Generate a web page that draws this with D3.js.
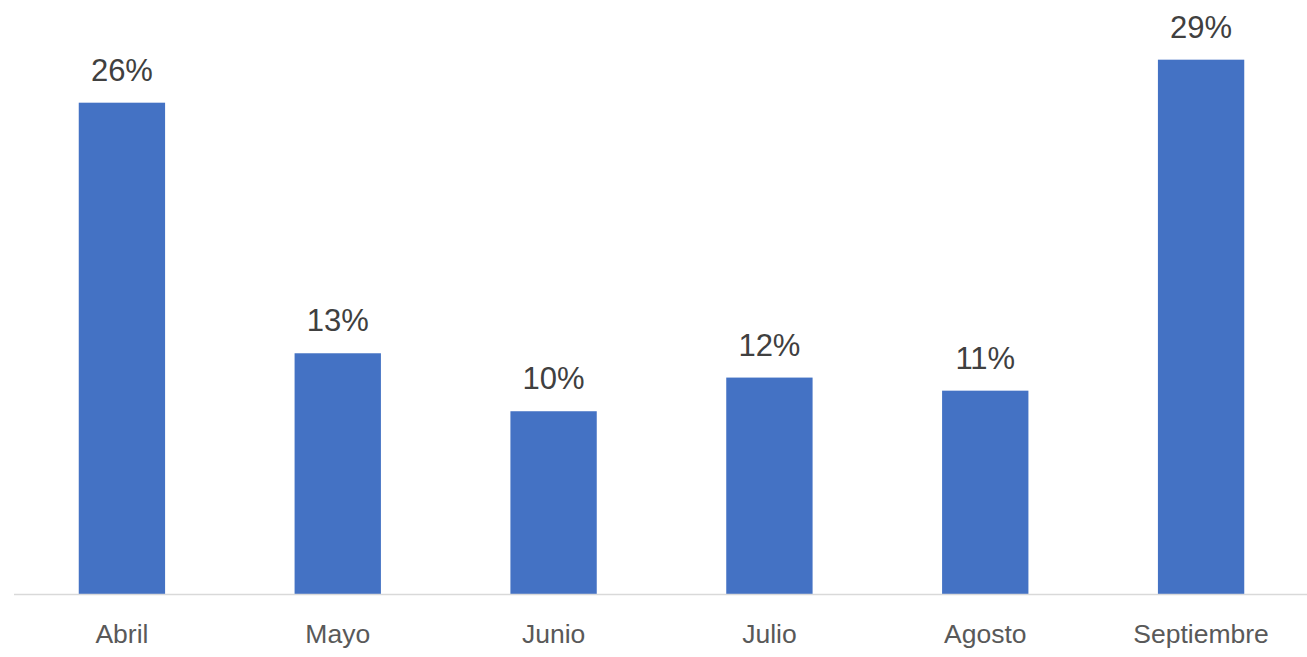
<!DOCTYPE html>
<html>
<head>
<meta charset="utf-8">
<script src="https://cdn.jsdelivr.net/npm/d3@7"></script>
<style>
  body { margin: 0; background: #fff; }
</style>
</head>
<body>
<div id="chart"></div>
<script>
// months and share of each one
var months = ["Abril", "Mayo", "Junio", "Julio", "Agosto", "Septiembre"]
var shares = [0.263, 0.129, 0.098, 0.116, 0.109, 0.286]

var W = 1307, H = 657
var baseY = 594.5

var svg = d3.select("#chart").append("svg")
    .attr("width", W)
    .attr("height", H)

var x = d3.scaleBand()
  .domain(months)
  .range([14, 1309])
  .paddingInner(0.6)
  .paddingOuter(0.3)

// 18.7 px per percent point
var y = d3.scaleLinear()
  .domain([0, 0.30])
  .range([baseY, baseY - 18.7 * 30])

svg.selectAll("rect.bar")
  .data(months)
  .enter().append("rect")
    .attr("class", "bar")
    .attr("x", function(d) { return x(d) })
    .attr("width", x.bandwidth())
    .attr("y", function(d, i) { return y(shares[i]) })
    .attr("height", function(d, i) { return baseY - y(shares[i]) })
    .style("fill", "#4472C4")

// x axis, only the line and the labels
var xAxis = svg.append("g")
    .attr("transform", "translate(0," + baseY + ")")
    .call(d3.axisBottom(x).tickSize(0).tickPadding(0))

xAxis.select(".domain")
    .attr("d", "M14,0H" + W)
    .style("stroke", "#d9d9d9")
    .style("stroke-width", 1.5)

xAxis.selectAll("text")
    .attr("dy", null)
    .attr("y", 48)
    .style("font-family", "'Liberation Sans', Arial, sans-serif")
    .style("font-size", "26.5px")
    .style("fill", "#595959")

// value labels above bars
svg.selectAll("text.val")
  .data(months)
  .enter().append("text")
    .attr("class", "val")
    .attr("x", function(d) { return x(d) + x.bandwidth() / 2 })
    .attr("y", function(d, i) { return y(shares[i]) - 22 })
    .attr("text-anchor", "middle")
    .style("font-family", "'Liberation Sans', Arial, sans-serif")
    .style("font-size", "31px")
    .style("fill", "#404040")
    .text(function(d, i) { return d3.format(".0%")(shares[i]) })
</script>
</body>
</html>
